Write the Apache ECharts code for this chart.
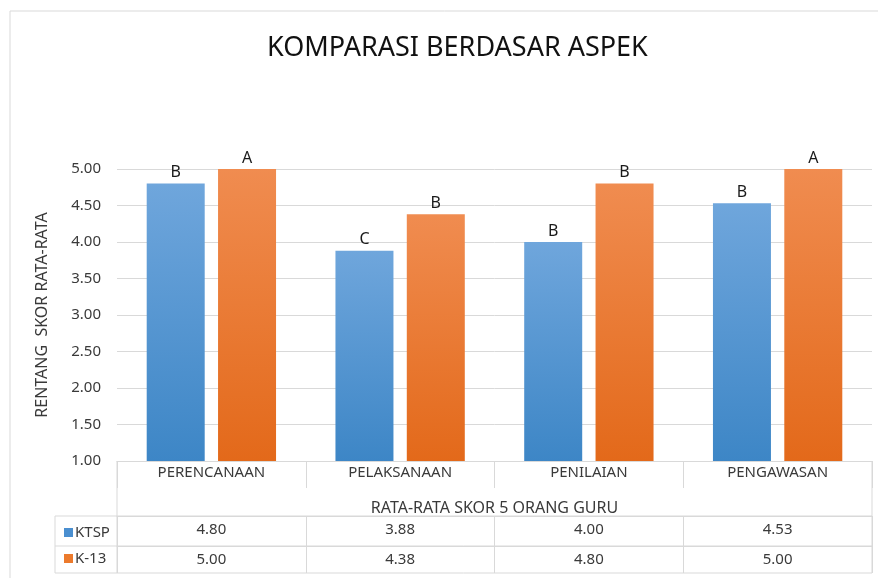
<!DOCTYPE html>
<html>
<head>
<meta charset="utf-8">
<script src="https://cdn.jsdelivr.net/npm/echarts@6/dist/echarts.min.js"></script>
<style>html,body{margin:0;padding:0;background:#fff}#c{width:878px;height:578px}</style>
</head>
<body>
<div id="c"></div>
<script>
const categories = ['PERENCANAAN', 'PELAKSANAAN', 'PENILAIAN', 'PENGAWASAN'];
const seriesNames = ['KTSP', 'K-13'];
const ktspValues = [4.80, 3.88, 4.00, 4.53];
const k13Values = [5.00, 4.38, 4.80, 5.00];
const ktspGrades = ['B', 'C', 'B', 'B'];
const k13Grades = ['A', 'B', 'B', 'A'];
const yTicks = [1.0, 1.5, 2.0, 2.5, 3.0, 3.5, 4.0, 4.5, 5.0];

const FONT = 'Noto Sans';
const chart = echarts.init(document.getElementById('c'), null, {renderer: 'canvas'});
const grid = {left: 117, right: 6, top: 169, bottom: 117};
const line = '#d9d9d9';
const txt = '#3a3a3a';

function grad(top, bottom) {
  return new echarts.graphic.LinearGradient(0, 0, 0, 1, [
    {offset: 0, color: top}, {offset: 1, color: bottom}
  ]);
}
function rowAxis(values, offset, len) {
  return {
    type: 'category', gridIndex: 0, position: 'bottom', offset: offset,
    data: values.map(v => v.toFixed(2)),
    axisLine: {show: true, lineStyle: {color: line}},
    axisTick: {show: true, length: len, lineStyle: {color: line}, alignWithLabel: false},
    axisLabel: {color: txt, fontFamily: FONT, fontSize: 15, margin: 6},
    splitLine: {show: false}
  };
}
const hl = (x1, y, x2) => ({type: 'line', shape: {x1: x1, y1: y, x2: x2, y2: y}, style: {stroke: line, lineWidth: 1}, silent: true});
const vl = (x, y1, y2) => ({type: 'line', shape: {x1: x, y1: y1, x2: x, y2: y2}, style: {stroke: line, lineWidth: 1}, silent: true});

chart.setOption({
  animation: false,
  backgroundColor: '#fff',
  textStyle: {fontFamily: FONT},
  title: {
    text: 'KOMPARASI BERDASAR ASPEK', left: 262, top: 30,
    textStyle: {fontFamily: FONT, fontWeight: 'normal', fontSize: 27, color: '#111'}
  },
  legend: {
    orient: 'vertical', left: 59, top: 520, itemGap: 11,
    itemWidth: 9, itemHeight: 9, icon: 'rect', selectedMode: false,
    textStyle: {color: txt, fontFamily: FONT, fontSize: 15, padding: [0, 0, 0, -3]},
    data: [
      {name: seriesNames[0], itemStyle: {color: '#4a8fd0'}},
      {name: seriesNames[1], itemStyle: {color: '#ec7a2c'}}
    ]
  },
  grid: grid,
  xAxis: [
    {
      type: 'category', data: categories,
      name: 'RATA-RATA SKOR 5 ORANG GURU', nameLocation: 'middle', nameGap: 39,
      nameTextStyle: {color: txt, fontFamily: FONT, fontSize: 16},
      axisLine: {show: true, lineStyle: {color: line}},
      axisTick: {show: true, length: 27, lineStyle: {color: line}},
      axisLabel: {color: txt, fontFamily: FONT, fontSize: 15, margin: 4}
    },
    rowAxis(ktspValues, 55, 30),
    rowAxis(k13Values, 85, 27)
  ],
  yAxis: {
    type: 'value', min: 1, max: 5, interval: 0.5,
    name: 'RENTANG  SKOR RATA-RATA', nameLocation: 'middle', nameGap: 67, nameRotate: 90,
    nameTextStyle: {color: txt, fontFamily: FONT, fontSize: 16},
    axisLine: {show: false}, axisTick: {show: false},
    axisLabel: {color: txt, fontFamily: FONT, fontSize: 15, margin: 16,
      formatter: v => yTicks.includes(v) ? v.toFixed(2) : ''},
    splitLine: {lineStyle: {color: line}}
  },
  series: [
    {
      name: seriesNames[0], type: 'bar', data: ktspValues, barWidth: 58, barGap: '23%',
      itemStyle: {color: grad('#6fa6dc', '#3d86c6')},
      label: {show: true, position: 'top', distance: 3, color: '#1a1a1a', fontFamily: FONT, fontSize: 16,
        formatter: p => ktspGrades[p.dataIndex]}
    },
    {
      name: seriesNames[1], type: 'bar', data: k13Values, barWidth: 58,
      itemStyle: {color: grad('#f08c50', '#e3691a')},
      label: {show: true, position: 'top', distance: 3, color: '#1a1a1a', fontFamily: FONT, fontSize: 16,
        formatter: p => k13Grades[p.dataIndex]}
    }
  ],
  graphic: [
    {type: 'rect', shape: {x: 10, y: 11, width: 900, height: 700}, style: {fill: 'none', stroke: line, lineWidth: 1}, silent: true, z: -1},
    hl(55, 516, 872), hl(55, 546, 872), hl(55, 573, 872),
    vl(55, 516, 573), vl(117, 461, 573), vl(872, 461, 573)
  ]
});
</script>
</body>
</html>
